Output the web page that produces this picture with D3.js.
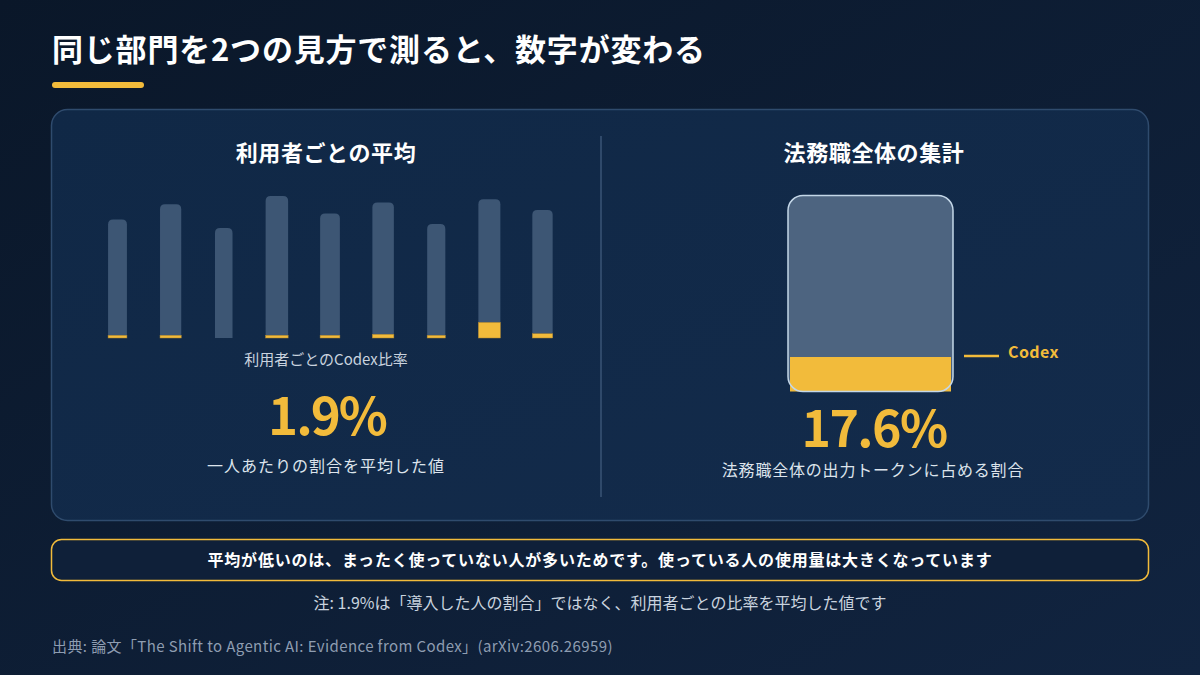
<!DOCTYPE html>
<html lang="ja">
<head>
<meta charset="utf-8">
<script src="https://cdn.jsdelivr.net/npm/d3@7"></script>
<style>
  html, body { margin: 0; padding: 0; background: #0b1a2e; }
  svg { display: block; font-family: 'Noto Sans CJK JP', 'Noto Sans', sans-serif; }
</style>
</head>
<body>
<div id="chart"></div>
<script>
'use strict'

// per-user total output (relative) and the Codex part of it
const users = ['u1', 'u2', 'u3', 'u4', 'u5', 'u6', 'u7', 'u8', 'u9']
const userTotal = [83.4, 94.2, 77.5, 100, 87.6, 95.4, 80.3, 97.7, 90.2]
const userCodex = [1.9, 1.9, 0, 1.9, 1.9, 2.6, 1.9, 11, 3.0]

// whole legal department: Codex share of output tokens (%)
const deptShare = 17.6
const avgShare = 1.9

const texts = {
  title: '同じ部門を2つの見方で測ると、数字が変わる',
  left: '利用者ごとの平均',
  right: '法務職全体の集計',
  leftAxis: '利用者ごとのCodex比率',
  leftNote: '一人あたりの割合を平均した値',
  rightNote: '法務職全体の出力トークンに占める割合',
  legend: 'Codex',
  callout: '平均が低いのは、まったく使っていない人が多いためです。使っている人の使用量は大きくなっています',
  note: '注: 1.9%は「導入した人の割合」ではなく、利用者ごとの比率を平均した値です',
  source: '出典: 論文「The Shift to Agentic AI: Evidence from Codex」(arXiv:2606.26959)'
}

const W = 1200
const H = 675
const yellow = '#f2bb3b'

const svg = d3.select('#chart')
  .append('svg')
  .attr('width', W)
  .attr('height', H)

const defs = svg.append('defs')
const bg = defs.append('linearGradient')
  .attr('id', 'bg')
  .attr('x1', 0).attr('y1', 0).attr('x2', 1).attr('y2', 1)
bg.append('stop').attr('offset', '0%').attr('stop-color', '#0a1729')
bg.append('stop').attr('offset', '100%').attr('stop-color', '#112440')

const panelGrad = defs.append('linearGradient')
  .attr('id', 'panel')
  .attr('x1', 0).attr('y1', 0).attr('x2', 1).attr('y2', 1)
panelGrad.append('stop').attr('offset', '0%').attr('stop-color', '#102846')
panelGrad.append('stop').attr('offset', '100%').attr('stop-color', '#132b4b')

svg.append('rect').attr('width', W).attr('height', H).attr('fill', 'url(#bg)')

// title
svg.append('text')
  .attr('x', 52).attr('y', 61)
  .attr('fill', '#ffffff')
  .attr('font-size', 31)
  .attr('font-weight', 700)
  .attr('letter-spacing', 0.8)
  .text(texts.title)

svg.append('rect')
  .attr('x', 52).attr('y', 82)
  .attr('width', 92).attr('height', 6)
  .attr('rx', 3)
  .attr('fill', yellow)

// main panel
svg.append('rect')
  .attr('x', 51.5).attr('y', 109.5)
  .attr('width', 1097).attr('height', 411)
  .attr('rx', 16)
  .attr('fill', 'url(#panel)')
  .attr('stroke', '#2f4b6d')
  .attr('stroke-width', 1.5)

svg.append('line')
  .attr('x1', 601).attr('x2', 601)
  .attr('y1', 136).attr('y2', 497)
  .attr('stroke', '#3a5576')
  .attr('stroke-width', 1.5)

const heading = (x, t) => svg.append('text')
  .attr('x', x).attr('y', 161)
  .attr('text-anchor', 'middle')
  .attr('fill', '#ffffff')
  .attr('font-size', 22)
  .attr('font-weight', 700)
  .attr('letter-spacing', 0.6)
  .text(t)

heading(326, texts.left)
heading(874, texts.right)

// ---- left: per-user bars
const x = d3.scalePoint()
  .domain(users)
  .range([117.5, 542.5])

const y = d3.scaleLinear()
  .domain([0, 100])
  .range([338, 196])

const bw = d3.scaleLinear()
  .domain([75, 100])
  .range([17, 22.5])

const rows = users.map((u, i) => ({ u, total: userTotal[i], codex: userCodex[i] }))

const bars = svg.append('g')
  .selectAll('g')
  .data(rows)
  .join('g')

bars.append('path')
  .attr('fill', '#3d5674')
  .attr('d', d => {
    const w = bw(d.total)
    const x0 = x(d.u) - w / 2
    const y0 = y(d.total)
    const r = 5
    return `M${x0},${y(0)}V${y0 + r}Q${x0},${y0} ${x0 + r},${y0}H${x0 + w - r}Q${x0 + w},${y0} ${x0 + w},${y0 + r}V${y(0)}Z`
  })

bars.filter(d => d.codex > 0)
  .append('rect')
  .attr('x', d => x(d.u) - bw(d.total) / 2)
  .attr('width', d => bw(d.total))
  .attr('y', d => y(d.codex))
  .attr('height', d => y(0) - y(d.codex))
  .attr('fill', yellow)
  .attr('stroke', '#a9822e')
  .attr('stroke-width', 0.5)

svg.append('text')
  .attr('x', 326).attr('y', 365)
  .attr('text-anchor', 'middle')
  .attr('fill', '#c9d3df')
  .attr('font-size', 15)
  .text(texts.leftAxis)

svg.append('text')
  .attr('x', 327).attr('y', 435)
  .attr('text-anchor', 'middle')
  .attr('fill', yellow)
  .attr('font-size', 51)
  .attr('font-weight', 700)
  .attr('letter-spacing', -2)
  .text(d3.format('.1f')(avgShare) + '%')

svg.append('text')
  .attr('x', 326).attr('y', 472)
  .attr('text-anchor', 'middle')
  .attr('fill', '#dde4ec')
  .attr('font-size', 16)
  .attr('letter-spacing', 1)
  .text(texts.leftNote)

// ---- right: whole department box
const bx = d3.scaleLinear().domain([0, 1]).range([788, 953])
const by = d3.scaleLinear().domain([0, 100]).range([391.5, 195.5])

svg.append('rect')
  .attr('x', bx(0)).attr('y', by(100))
  .attr('width', bx(1) - bx(0)).attr('height', by(0) - by(100))
  .attr('rx', 15)
  .attr('fill', '#4d6480')

svg.append('rect')
  .attr('x', bx(0) + 2).attr('y', by(deptShare))
  .attr('width', bx(1) - bx(0) - 4).attr('height', by(0) - by(deptShare))
  .attr('fill', yellow)

svg.append('rect')
  .attr('x', bx(0)).attr('y', by(100))
  .attr('width', bx(1) - bx(0)).attr('height', by(0) - by(100))
  .attr('rx', 15)
  .attr('fill', 'none')
  .attr('stroke', '#c4d7e8')
  .attr('stroke-width', 1.5)

svg.append('line')
  .attr('x1', 964).attr('x2', 999)
  .attr('y1', by(deptShare) - 1).attr('y2', by(deptShare) - 1)
  .attr('stroke', yellow)
  .attr('stroke-width', 2.5)

svg.append('text')
  .attr('x', 1008).attr('y', by(deptShare) + 1)
  .attr('fill', yellow)
  .attr('font-size', 16)
  .attr('font-weight', 700)
  .attr('letter-spacing', 0.4)
  .text(texts.legend)

svg.append('text')
  .attr('x', 874).attr('y', 447)
  .attr('text-anchor', 'middle')
  .attr('fill', yellow)
  .attr('font-size', 50)
  .attr('font-weight', 700)
  .attr('letter-spacing', -1.6)
  .text(d3.format('.1f')(deptShare) + '%')

svg.append('text')
  .attr('x', 873).attr('y', 476)
  .attr('text-anchor', 'middle')
  .attr('fill', '#dde4ec')
  .attr('font-size', 16)
  .attr('letter-spacing', 0.8)
  .text(texts.rightNote)

// ---- callout and notes
svg.append('rect')
  .attr('x', 51.5).attr('y', 539.5)
  .attr('width', 1097).attr('height', 41)
  .attr('rx', 10)
  .attr('fill', '#0f2039')
  .attr('stroke', yellow)
  .attr('stroke-width', 1.5)

svg.append('text')
  .attr('x', 600).attr('y', 566)
  .attr('text-anchor', 'middle')
  .attr('fill', '#ffffff')
  .attr('font-size', 16)
  .attr('font-weight', 700)
  .attr('letter-spacing', 0.8)
  .text(texts.callout)

svg.append('text')
  .attr('x', 600).attr('y', 609)
  .attr('text-anchor', 'middle')
  .attr('fill', '#c9d3df')
  .attr('font-size', 16)
  .text(texts.note)

svg.append('text')
  .attr('x', 52).attr('y', 652)
  .attr('fill', '#8e9db1')
  .attr('font-size', 15)
  .attr('letter-spacing', 0.4)
  .text(texts.source)
</script>
</body>
</html>
